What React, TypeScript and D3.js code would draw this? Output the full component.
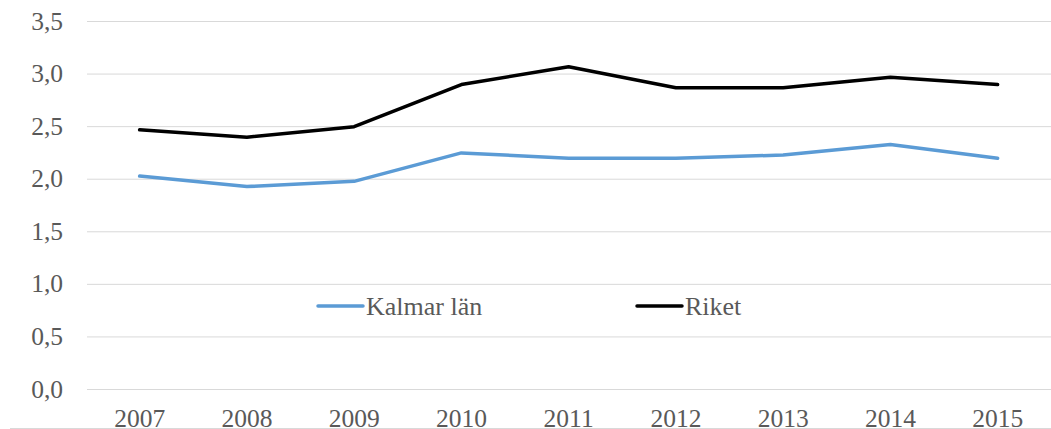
import React from "react";
import * as d3 from "d3";

const years = ["2007", "2008", "2009", "2010", "2011", "2012", "2013", "2014", "2015"];
const kalmar = [2.03, 1.93, 1.98, 2.25, 2.2, 2.2, 2.23, 2.33, 2.2];
const riket = [2.47, 2.4, 2.5, 2.9, 3.07, 2.87, 2.87, 2.97, 2.9];
const yTicks = [0, 0.5, 1, 1.5, 2, 2.5, 3, 3.5];
const seriesNames = ["Kalmar län", "Riket"];
const seriesColors = ["#5B9BD5", "#000000"];

export default function App() {
  const W = 1051, H = 429;
  const x = d3.scaleBand().domain(years).range([86, 86 + 9 * 107.25]);
  const y = d3.scaleLinear().domain([0, 3.5]).range([389.5, 21.5]);
  const line = d3
    .line<number>()
    .x((_, i) => (x(years[i]) as number) + x.bandwidth() / 2)
    .y((d) => y(d));
  const fmt = (v: number) => v.toFixed(1).replace(".", ",");
  const font = "'Liberation Serif', 'Times New Roman', serif";
  const data = [kalmar, riket];
  const legendX = [318, 637];
  return (
    <svg
      width={W}
      height={H}
      style={{ position: "absolute", left: 0, top: 0, background: "#fff" }}
    >
      {yTicks.map((t) => (
        <g key={t}>
          <line x1={87} x2={W} y1={y(t)} y2={y(t)} stroke="#D9D9D9" strokeWidth={1} />
          <text
            x={63}
            y={y(t) + 8}
            textAnchor="end"
            fontFamily={font}
            fontSize={25.5}
            fill="#595959"
          >
            {fmt(t)}
          </text>
        </g>
      ))}
      {years.map((yr) => (
        <text
          key={yr}
          x={(x(yr) as number) + x.bandwidth() / 2}
          y={427}
          textAnchor="middle"
          fontFamily={font}
          fontSize={25.5}
          fill="#595959"
        >
          {yr}
        </text>
      ))}
      <line x1={10} x2={W} y1={428.5} y2={428.5} stroke="#D9D9D9" strokeWidth={1} />
      {data.map((d, i) => (
        <path
          key={i}
          d={line(d) as string}
          fill="none"
          stroke={seriesColors[i]}
          strokeWidth={3.5}
          strokeLinejoin="round"
          strokeLinecap="round"
        />
      ))}
      {seriesNames.map((n, i) => (
        <g key={n}>
          <line
            x1={legendX[i]}
            x2={legendX[i] + 45}
            y1={306}
            y2={306}
            stroke={seriesColors[i]}
            strokeWidth={3.5}
            strokeLinecap="round"
          />
          <text
            x={legendX[i] + 48}
            y={314.5}
            fontFamily={font}
            fontSize={26}
            fill="#595959"
          >
            {n}
          </text>
        </g>
      ))}
    </svg>
  );
}
